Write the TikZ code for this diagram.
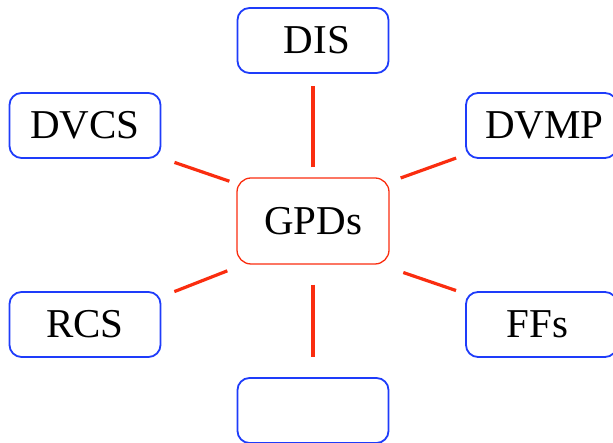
\documentclass[tikz,border=0pt]{standalone}
\usepackage{fontspec}
\setmainfont{Liberation Serif}
\definecolor{boxblue}{RGB}{30,60,250}
\definecolor{linered}{RGB}{250,45,15}
\begin{document}
\begin{tikzpicture}[x=1pt,y=1pt,
  procbox/.style={draw=boxblue, line width=1.8pt, rounded corners=12pt,
    minimum width=151pt, minimum height=65pt, inner sep=0pt,
    font=\fontsize{41}{45}\selectfont},
  centerbox/.style={draw=linered, line width=1.3pt, rounded corners=14pt,
    minimum width=152pt, minimum height=86pt, inner sep=0pt,
    font=\fontsize{41}{45}\selectfont},
  spoke/.style={draw=linered, line width=3.2pt}]
\clip (0,0) rectangle (613,443);
\useasboundingbox (0,0) rectangle (613,443);
\node[centerbox] (g) at (313,222) {GPDs};
\node[procbox] (dis) at (313,402.5) {\hspace{8pt}DIS};
\node[procbox] (dvcs) at (85,317.5) {DVCS};
\node[procbox] (dvmp) at (541.5,317.5) {\hspace{6pt}DVMP};
\node[procbox] (rcs) at (85,118.5) {RCS};
\node[procbox] (ffs) at (541.5,118.5) {\hspace{-8pt}FFs};
\node[procbox] (bot) at (313,32.5) {};
\draw[spoke, shorten <=10pt, shorten >=12pt] (g) -- (dis);
\draw[spoke, shorten <=20pt, shorten >=20pt] (g) -- (bot);
\draw[spoke, shorten <=7.4pt, shorten >=13.8pt] (g.154.3) -- (dvcs.-23);
\draw[spoke, shorten <=17pt, shorten >=13.9pt] (g.212.7) -- (rcs.20.9);
\draw[spoke, shorten <=11.7pt, shorten >=9.5pt] (g.27.2) -- (dvmp.201.2);
\draw[spoke, shorten <=24.4pt, shorten >=9.6pt] (g.-33.9) -- (ffs.158.8);
\end{tikzpicture}
\end{document}
